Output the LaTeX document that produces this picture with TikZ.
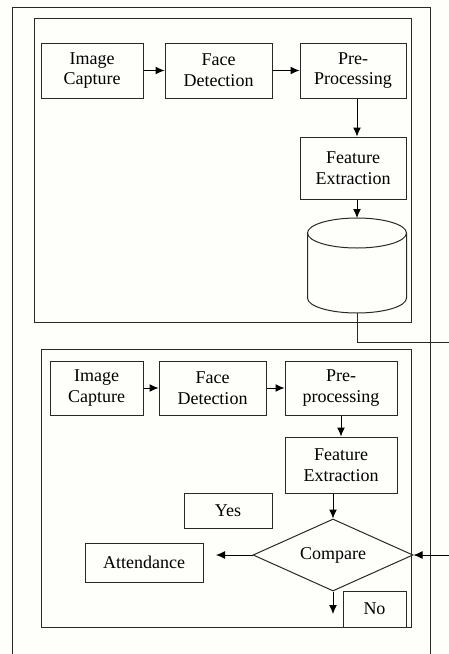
\documentclass[tikz,border=0pt]{standalone}
\usepackage{fontspec}
\setmainfont{Liberation Serif}
\usetikzlibrary{arrows.meta}
\usetikzlibrary{shapes.geometric}

\definecolor{paper}{RGB}{254,254,250}
\definecolor{ink}{RGB}{40,40,40}

\tikzset{
	blk/.style={draw=ink, line width=1pt, rectangle, align=center, inner sep=0pt,
		font=\fontsize{18}{20.7}\selectfont},
	decision/.style={draw=ink, line width=1pt, diamond, aspect=2.2, inner sep=0pt,
		minimum width=160pt, minimum height=72pt, font=\fontsize{18}{20.7}\selectfont},
	flow/.style={black, line width=1pt, -{Latex[length=9pt,width=8pt]}},
	frame/.style={draw=ink, line width=1pt}
}

\begin{document}
\begin{tikzpicture}[x=1pt, y=-1pt]
		\useasboundingbox[fill=paper] (0,0) rectangle (449,654);

		% outer frame, open at the bottom
		\draw[frame] (12,654) -- (12,7) -- (430,7) -- (430,654);

		% enrolment stage
		\draw[frame] (34,18) rectangle (411,322);
		\node[blk, minimum width=102pt, minimum height=55pt] (cap1) at (92,70.5) {Image\\Capture};
		\node[blk, minimum width=107pt, minimum height=55pt] (det1) at (218.5,70.5) {Face\\Detection};
		\node[blk, minimum width=106pt, minimum height=55pt] (pre1) at (353,70.5) {Pre-\\Processing};
		\node[blk, minimum width=106pt, minimum height=62pt] (fex1) at (353,168) {Feature\\Extraction};

		% database
		\draw[frame] (307.5,233) -- (307.5,298) arc[start angle=180, end angle=0, x radius=49.5, y radius=15] -- (406.5,233);
		\draw[frame] (357,233) ellipse[x radius=49.5, y radius=15];
		\coordinate (dbtop) at (357,218);
		\coordinate (dbbot) at (357,313);
		\coordinate (dbout) at (449,342);

		\draw[flow] (cap1.east) -- (det1.west);
		\draw[flow] (det1.east) -- (pre1.west);
		\draw[flow] (dbtop |- pre1.south) -- (dbtop |- fex1.north);
		\draw[flow] (dbtop |- fex1.south) -- (dbtop);
		\draw[frame] (dbbot) |- (dbout);

		% recognition stage
		\draw[frame] (41,349) rectangle (411,627);
		\node[blk, minimum width=93pt, minimum height=54pt] (cap2) at (96.5,388) {Image\\Capture};
		\node[blk, minimum width=107pt, minimum height=54pt] (det2) at (212.5,388) {Face\\Detection};
		\node[blk, minimum width=112pt, minimum height=54pt] (pre2) at (341,388) {Pre-\\processing};
		\node[blk, minimum width=112pt, minimum height=56pt] (fex2) at (341,465) {Feature\\Extraction};
		\node[decision] (cmp) at (333,555) {Compare};
		\node[blk, minimum width=88pt, minimum height=35pt] (yes) at (228,510.5) {Yes};
		\node[blk, minimum width=118pt, minimum height=39pt] (att) at (144,562.5) {Attendance};
		\node[blk, minimum width=63pt, minimum height=36pt] (no) at (374.5,609) {No};

		\coordinate (attin) at (216,555);
		\coordinate (noout) at (333,614);
		\coordinate (dbin) at (449,555);

		\draw[flow] (cap2.east) -- (det2.west);
		\draw[flow] (det2.east) -- (pre2.west);
		\draw[flow] (pre2.south) -- (fex2.north);
		\draw[flow] (cmp.north |- fex2.south) -- (cmp.north);
		\draw[flow] (cmp.west) -- (attin);
		\draw[flow] (cmp.south) -- (noout);
		\draw[flow] (dbin) -- (cmp.east);
	\end{tikzpicture}
\end{document}
